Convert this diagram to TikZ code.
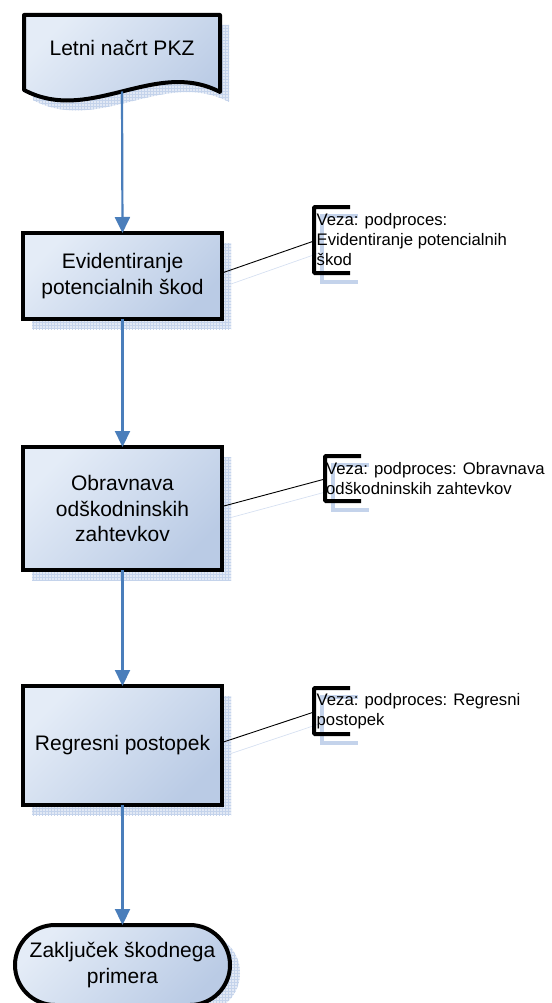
\documentclass[tikz,border=0pt]{standalone}
\usepackage{fontspec}
\setmainfont{Liberation Sans}
\usetikzlibrary{arrows.meta,shapes.misc,patterns,calc,backgrounds}

\definecolor{boxlight}{RGB}{228,236,247}
\definecolor{boxdark}{RGB}{186,203,229}
\definecolor{shadowfill}{RGB}{226,233,245}
\definecolor{shadowgrid}{RGB}{196,211,235}
\definecolor{flowblue}{RGB}{74,126,187}

\newcommand{\boxfont}{\fontsize{21pt}{25.5pt}\selectfont}
\newcommand{\notefont}{\fontsize{16.7pt}{20pt}\selectfont}

\tikzset{
  shapefill/.style={top color=boxlight, bottom color=boxdark, shading angle=45},
  shadowpatch/.style={fill=shadowfill, postaction={pattern=grid, pattern color=shadowgrid}},
  stepbox/.style={draw=black, line width=4pt, shapefill, minimum width=199pt,
    inner sep=0pt, outer sep=0pt, align=center, font=\boxfont, text=black},
  endbox/.style={stepbox, rounded rectangle, minimum width=215pt, minimum height=80pt},
  flow/.style={draw=flowblue, line width=2.2pt, -{Triangle[width=15pt,length=16pt]}},
  bracket/.style={draw=black, line width=4pt, rounded corners=1pt},
  bracketshadow/.style={draw=shadowgrid, line width=4pt},
  link/.style={draw=black, line width=0.9pt},
  linkshadow/.style={draw=shadowgrid!70, line width=0.7pt},
  note/.style={font=\notefont, align=left, anchor=west, inner sep=0pt, text=black}
}

\begin{document}
\begin{tikzpicture}[x=1pt, y=-1pt]
  \useasboundingbox (0,0) rectangle (551,1003);

  % document shape (start of the process)
  \begin{scope}[shift={(9,10)}]
    \fill[shadowpatch] (24,15) -- (220,15) -- (220,92)
      .. controls (155,58) and (90,125) .. (24,90) -- cycle;
  \end{scope}
  \path[draw=black, line width=4pt, line join=round, shapefill]
    (24,15) -- (220,15) -- (220,92)
    .. controls (155,58) and (90,125) .. (24,90) -- cycle;
  \node[font=\boxfont, inner sep=0pt] (doc) at (122,48) {Letni načrt PKZ};
  \coordinate (docb) at (122,91.5);

  % process steps
  \node[stepbox, minimum height=86pt] (r1) at (122.5,276) {Evidentiranje\\potencialnih škod};
  \node[stepbox, minimum height=123pt] (r2) at (122.5,508.5) {Obravnava\\odškodninskih\\zahtevkov};
  \node[stepbox, minimum height=119pt] (r3) at (122.5,745.5) {Regresni postopek};
  \node[endbox] (t) at (122.5,965) {Zaključek škodnega\\primera};

  % shadows behind the steps
  \begin{scope}[on background layer]
    \foreach \n in {r1,r2,r3}{
      \fill[shadowpatch] ($(\n.south west)+(9,10)$) rectangle ($(\n.north east)+(9,10)$);
    }
    \node[rounded rectangle, minimum width=215pt, minimum height=80pt, inner sep=0pt,
      shadowpatch] at ($(t.center)+(10,8)$) {};
  \end{scope}

  % flow arrows
  \draw[flow] (docb) -- (r1.north);
  \draw[flow] (r1.south) -- (r2.north);
  \draw[flow] (r2.south) -- (r3.north);
  \draw[flow] (r3.south) -- (t.north);

  % subprocess references
  \coordinate (b1) at (314,241);
  \coordinate (b2) at (325,479);
  \coordinate (b3) at (314,712);

  \draw[bracketshadow] (358,216) -| (322,282) -- (358,282);
  \draw[bracketshadow] (369,465) -| (333,510) -- (369,510);
  \draw[bracketshadow] (358,697) -| (322,743) -- (358,743);

  \draw[linkshadow] ($([yshift=3pt]r1.east)+(9,11)$) -- ($(b1)+(8,11)$);
  \draw[linkshadow] ($([yshift=2pt]r2.east)+(9,11)$) -- ($(b2)+(8,11)$);
  \draw[linkshadow] ($([yshift=3pt]r3.east)+(9,11)$) -- ($(b3)+(8,11)$);

  \draw[bracket] (350,207) -| (314,273) -- (350,273);
  \draw[bracket] (361,456) -| (325,501) -- (361,501);
  \draw[bracket] (350,688) -| (314,734) -- (350,734);

  \draw[link] ([yshift=3pt]r1.east) -- (b1);
  \draw[link] ([yshift=2pt]r2.east) -- (b2);
  \draw[link] ([yshift=3pt]r3.east) -- (b3);

  \node[note] (n1) at (316.5,240) {Veza: podproces:\\Evidentiranje potencialnih\\škod};
  \node[note] (n2) at (326,479) {Veza: podproces: Obravnava\\odškodninskih zahtevkov};
  \node[note] (n3) at (316.5,711.5) {Veza: podproces: Regresni\\postopek};
\end{tikzpicture}
\end{document}
